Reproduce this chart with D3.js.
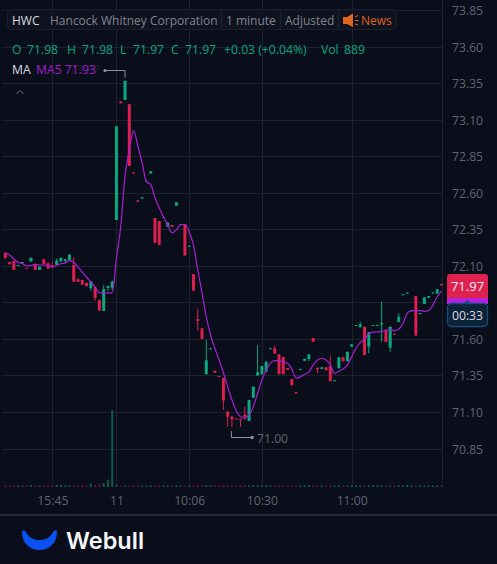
<!DOCTYPE html>
<html><head><meta charset="utf-8">
<script src="https://cdn.jsdelivr.net/npm/d3@7/dist/d3.min.js"></script>
<style>html,body{margin:0;padding:0;background:#0a0e1a;overflow:hidden}svg{display:block}text{font-family:"Open Sans","Noto Sans",sans-serif}</style>
</head><body><svg id="c" width="497" height="564"></svg>
<script>
const opens=[72.193,72.130,72.136,72.102,72.121,72.089,72.132,72.118,72.075,72.148,72.121,72.107,72.111,72.132,72.134,72.143,72.109,72.011,72.007,71.988,71.952,71.957,71.870,71.794,71.952,71.954,72.417,73.229,73.238,73.209,72.741,72.552,72.563,72.689,72.734,72.431,72.410,72.437,72.371,72.383,72.515,72.386,72.390,72.234,72.048,71.740,71.676,71.361,71.532,71.386,71.350,71.336,71.106,71.071,71.058,71.056,71.085,71.042,71.201,71.352,71.361,71.379,71.532,71.539,71.498,71.480,71.404,71.329,71.238,71.391,71.454,71.466,71.610,71.406,71.398,71.409,71.418,71.313,71.402,71.478,71.450,71.550,71.694,71.683,71.687,71.550,71.694,71.694,71.701,71.664,71.543,71.639,71.721,71.902,71.913,71.797,71.897,71.772,71.842,71.885,71.913,71.913,71.98];
const closes=[72.155,72.114,72.075,72.109,72.130,72.082,72.159,72.075,72.097,72.114,72.084,72.093,72.139,72.159,72.148,72.180,71.995,71.995,71.974,71.963,71.998,71.883,71.797,71.945,71.966,71.995,73.058,73.215,73.370,72.786,72.734,72.542,72.572,72.689,72.750,72.260,72.246,72.437,72.399,72.371,72.538,72.386,72.173,72.241,71.933,71.726,71.603,71.457,71.539,71.372,71.343,71.181,71.071,71.054,71.051,71.047,71.067,71.186,71.277,71.375,71.418,71.448,71.539,71.502,71.361,71.361,71.393,71.288,71.229,71.398,71.468,71.498,71.584,71.396,71.409,71.391,71.313,71.320,71.478,71.450,71.516,71.567,71.699,71.703,71.493,71.649,71.699,71.699,71.712,71.582,71.687,71.632,71.755,71.909,71.920,71.797,71.626,71.781,71.888,71.897,71.920,71.943,71.97];
const highs=[72.193,72.130,72.136,72.109,72.130,72.089,72.159,72.118,72.097,72.148,72.128,72.130,72.152,72.159,72.148,72.180,72.159,72.018,72.007,71.988,71.998,71.957,71.874,71.970,71.966,72.002,73.058,73.229,73.370,73.209,72.741,72.552,72.572,72.689,72.750,72.431,72.410,72.437,72.399,72.383,72.538,72.386,72.390,72.241,72.048,71.810,71.676,71.596,71.539,71.386,71.350,71.336,71.106,71.076,71.058,71.056,71.140,71.186,71.277,71.560,71.418,71.448,71.539,71.557,71.498,71.480,71.404,71.329,71.238,71.398,71.468,71.498,71.610,71.406,71.409,71.409,71.489,71.320,71.478,71.478,71.516,71.567,71.699,71.721,71.687,71.649,71.699,71.699,71.858,71.664,71.687,71.639,71.779,71.909,71.920,71.797,71.897,71.781,71.888,71.897,71.920,71.943,71.98];
const lows=[72.155,72.114,72.075,72.102,72.121,72.082,72.132,72.075,72.075,72.114,72.084,72.089,72.104,72.132,72.134,72.143,71.995,71.995,71.974,71.963,71.933,71.863,71.797,71.794,71.931,71.938,72.417,73.215,73.238,72.786,72.734,72.542,72.563,72.689,72.734,72.260,72.246,72.437,72.371,72.371,72.515,72.386,72.173,72.234,71.933,71.660,71.603,71.361,71.532,71.372,71.343,71.117,71.003,71.000,71.051,71.000,71.049,71.042,71.201,71.352,71.361,71.379,71.532,71.502,71.361,71.361,71.393,71.281,71.229,71.391,71.454,71.452,71.584,71.368,71.398,71.384,71.313,71.313,71.402,71.450,71.450,71.550,71.694,71.683,71.493,71.505,71.694,71.694,71.584,71.582,71.514,71.632,71.717,71.902,71.913,71.797,71.626,71.772,71.842,71.885,71.913,71.913,71.97];
const ma5=[72.193,72.177,72.150,72.127,72.118,72.102,72.107,72.111,72.109,72.109,72.107,72.095,72.107,72.118,72.123,72.139,72.127,72.095,72.059,72.025,71.993,71.957,71.920,71.918,71.918,71.918,72.157,72.376,72.718,72.896,73.028,72.923,72.807,72.677,72.660,72.567,72.499,72.437,72.383,72.328,72.349,72.386,72.386,72.337,72.246,72.075,71.918,71.755,71.630,71.539,71.459,71.372,71.277,71.186,71.110,71.071,71.062,71.083,71.140,71.231,71.322,71.391,71.437,71.454,71.454,71.448,71.437,71.398,71.334,71.345,71.361,71.377,71.425,71.459,71.471,71.459,71.425,71.368,71.382,71.398,71.425,71.482,71.539,71.578,71.601,71.637,71.649,71.651,71.653,71.664,71.667,71.660,71.669,71.710,71.779,71.797,71.797,71.797,71.792,71.797,71.836,71.892,71.93];
const volumes=[900,850,950,800,900,1000,1050,900,850,950,1200,1350,1300,1400,1000,950,900,1150,1000,1100,1950,1200,1950,2350,4300,45000,1200,900,850,950,900,1000,850,800,950,900,1000,950,900,850,1000,950,900,1050,850,900,1000,1100,950,1200,950,1000,1100,850,900,1000,1150,900,1000,950,900,1050,850,950,900,1000,850,900,950,1000,900,1050,950,850,900,1000,950,900,1000,850,950,900,1000,850,950,900,1050,950,1000,900,850,950,1000,900,1300,950,900,1000,850,950,900,850,889];
const priceTicks=["73.85","73.60","73.35","73.10","72.85","72.60","72.35","72.10","71.85","71.60","71.35","71.10","70.85"];
const hiddenTick="71.85";
const timeTicks=[[11,"15:45"],[26,"11"],[43,"10:06"],[60,"10:30"],[81,"11:00"]];
const symbol="HWC", company="Hancock Whitney Corporation", period="1 minute", adjust="Adjusted", news="News";
const ohlc=[["O","71.98",12,27],["H","71.98",67,82],["L","71.97",120,133],["C","71.97",171,185]];

const svg=d3.select("#c");
const BG="#0a0e1a",GRID="#1e2230",AX="#5f6470",UP="#0ca681",DN="#dc1f4e",MA="#a81ed6",TEAL="#0da583";
svg.append("rect").attr("width",497).attr("height",564).attr("fill",BG);
const idx=d3.range(opens.length);
const x=d3.scalePoint().domain(idx).range([5.3,441.5]);
const y=d3.scaleLinear().domain([70.85,73.85]).range([449,10.5]);
const v=d3.scaleLinear().domain([0,45000]).range([487,410]);
const crisp=p=>Math.floor(p)+.5;

// grid
const g=svg.append("g");
g.selectAll("line.h").data(priceTicks).join("line").attr("class","h").attr("x1",2).attr("x2",443)
  .attr("y1",d=>crisp(y(+d))).attr("y2",d=>crisp(y(+d))).attr("stroke",GRID);
g.selectAll("line.v").data([...timeTicks.map(d=>d[0]),102]).join("line").attr("class","v")
  .attr("x1",d=>Math.round(x(d))+.5).attr("x2",d=>Math.round(x(d))+.5).attr("y1",0).attr("y2",487).attr("stroke",GRID);

// volume
const colr=i=>closes[i]>=opens[i]?UP:DN;
svg.append("g").selectAll("rect").data(idx).join("rect")
  .attr("x",i=>x(i)-1).attr("width",2)
  .attr("y",i=>v(volumes[i])).attr("height",i=>487-v(volumes[i]))
  .attr("fill",i=>closes[i]>=opens[i]?"#0b5b4b":"#62112f");

// axis labels
svg.append("g").selectAll("text").data(priceTicks.filter(d=>d!==hiddenTick)).join("text").attr("x",452).attr("y",d=>y(+d)+4.5)
  .attr("fill",AX).attr("font-size",12.2).text(d=>d);
svg.append("g").selectAll("text").data(timeTicks).join("text").attr("x",d=>x(d[0])+.5).attr("y",505)
  .attr("text-anchor","middle").attr("fill",AX).attr("font-size",12.2).text(d=>d[1]);

// candles
const cg=svg.append("g");
cg.selectAll("line").data(idx).join("line").attr("x1",i=>x(i)).attr("x2",i=>x(i))
  .attr("y1",i=>y(highs[i])).attr("y2",i=>y(lows[i])).attr("stroke",colr).attr("stroke-width",1);
cg.selectAll("rect").data(idx).join("rect").attr("x",i=>x(i)-1.5).attr("width",3).attr("rx",.5)
  .attr("y",i=>y(Math.max(opens[i],closes[i])))
  .attr("height",i=>Math.max(1,Math.abs(y(opens[i])-y(closes[i]))))
  .attr("fill",i=>opens[i]===closes[i]?"#555b73":colr(i));

// MA line
svg.append("path").attr("fill","none").attr("stroke",MA).attr("stroke-width",1.2)
  .attr("d",d3.line().x(i=>x(i)).y(i=>y(ma5[i])).curve(d3.curveMonotoneX)(idx));

// high / low markers
const mk=svg.append("g").attr("fill","none").attr("stroke","#8b8f9a");
const hx=x(28),lx=x(53);
mk.append("path").attr("d",`M105,70.5H${hx}V${y(73.37)-3}`);
mk.append("path").attr("d",`M${lx-.5},${y(71.00)+4}V437.5H252`);
svg.append("circle").attr("cx",105).attr("cy",70.5).attr("r",1.6).attr("fill","#8b8f9a");
svg.append("circle").attr("cx",252).attr("cy",437.5).attr("r",1.8).attr("fill","#8b8f9a");
svg.append("text").attr("x",100).attr("y",74).attr("text-anchor","end").attr("font-size",12).attr("fill","#1e2230").text("73.37");
svg.append("text").attr("x",257).attr("y",443).attr("font-size",12.2).attr("fill",AX).text("71.00");

// top bar
svg.append("rect").attr("x",7.5).attr("y",9.5).attr("width",389).attr("height",20).attr("rx",4)
  .attr("fill","#0f1320").attr("fill-opacity",.9).attr("stroke","#1a1f2e");
[221,280,338].forEach(px=>svg.append("line").attr("x1",px+.5).attr("x2",px+.5).attr("y1",10).attr("y2",29).attr("stroke","#1c2130").attr("stroke-width",1.5));
const t=(s,px,py,col,fs=12.2)=>svg.append("text").attr("x",px).attr("y",py).attr("fill",col).attr("font-size",fs).text(s);
t(symbol,12,25,"#d8dae0",12);
t(company,50,25,"#80858f",12);
t(period,226,25,"#80858f",12);
t(adjust,285,25,"#80858f",12);
svg.append("path").attr("d","M343,17H347L353,13.5V27L347,24H343Z").attr("fill","#e0651a");
svg.append("path").attr("d","M355,17L358,15.5M355,20.5H358.5M355,24L358,25").attr("stroke","#e0651a").attr("fill","none");
t(news,361,25,"#dd6418",12);

// OHLC
ohlc.forEach(d=>{t(d[0],d[2],54,TEAL);t(d[1],d[3],54,TEAL);});
t("+0.03 (+0.04%)",224,54,TEAL);
t("Vol",321,54,TEAL);
t("889",344,54,TEAL);
t("MA",12,74,"#d8dae0");
t("MA5 71.93",36,74,"#a51cce");
svg.append("path").attr("d","M16.5,94L20,90.5L23.5,94").attr("fill","none").attr("stroke","#6b7080");

// price tags
svg.append("rect").attr("x",447).attr("y",290).attr("width",41).attr("height",14).attr("fill","#b61fe0");
svg.append("path").attr("d","M447,277a3,3 0 0 1 3,-3H485a3,3 0 0 1 3,3V298H447Z").attr("fill","#df2150");
svg.append("text").attr("x",467.5).attr("y",291).attr("text-anchor","middle").attr("fill","#f3f3f5").attr("font-size",13).text("71.97");
svg.append("rect").attr("x",447.5).attr("y",303.5).attr("width",40).attr("height",23).attr("rx",4).attr("fill","#0b2237").attr("stroke","#164b7a").attr("stroke-width",1.4);
svg.append("path").attr("d","M464,303.5L467.5,300L471,303.5Z").attr("fill","#164b7a");
svg.append("text").attr("x",467.5).attr("y",319.5).attr("text-anchor","middle").attr("fill","#d9dde3").attr("font-size",12.2).text("00:33");

// footer
svg.append("rect").attr("x",0).attr("y",514).attr("width",497).attr("height",2).attr("fill","#262b3a");
svg.append("path").attr("d","M22,532C22,544 31,550 39.5,550C48,550 57,544 57,532C57,530 54,530 53,532C50,538 45,540 39.5,540C34,540 29,538 26,532C25,530 22,530 22,532Z").attr("fill","#0a50f2");
svg.append("text").attr("x",66).attr("y",549).attr("fill","#f4f5f8").attr("font-size",23.5).attr("font-weight",600).style("font-family","Inter,'Noto Sans',sans-serif").text("Webull");
</script></body></html>
